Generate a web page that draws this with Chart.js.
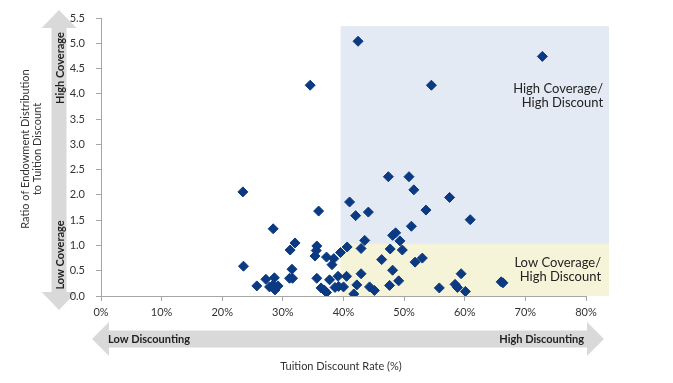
<!DOCTYPE html>
<html><head><meta charset="utf-8">
<script src="https://cdn.jsdelivr.net/npm/chart.js@4"></script>
<style>html,body{margin:0;padding:0;background:#fff}#wrap{width:673px;height:383px;position:relative}</style>
</head><body><div id="wrap"><canvas id="c" width="673" height="383"></canvas></div>
<script>
// Data
const discountRate = [42.4,72.8,34.5,54.5,23.4,47.4,50.8,51.6,57.5,41.0,35.9,42.0,44.1,53.6,60.9,51.2,28.4,48.6,48.1,49.3,43.5,32.0,31.2,23.5,35.6,35.5,35.3,37.2,38.1,38.4,39.5,40.6,42.9,47.7,49.7,46.3,51.8,53.0,48.1,42.9,40.5,39.1,37.7,35.6,36.3,36.8,37.2,38.6,39.2,40.0,41.7,42.2,44.3,45.1,47.6,49.1,55.8,58.4,58.8,59.4,60.1,66.0,66.3,31.5,31.1,31.6,27.2,25.7,27.8,28.6,28.7,29.2,28.4];
const coverageRatio = [5.04,4.74,4.17,4.17,2.06,2.36,2.36,2.10,1.95,1.86,1.68,1.59,1.66,1.70,1.51,1.38,1.33,1.25,1.20,1.09,1.10,1.05,0.91,0.59,0.99,0.90,0.79,0.77,0.62,0.74,0.86,0.97,0.94,0.93,0.91,0.72,0.67,0.75,0.51,0.44,0.39,0.39,0.32,0.35,0.16,0.12,0.07,0.17,0.19,0.18,0.04,0.22,0.18,0.11,0.21,0.30,0.16,0.23,0.17,0.44,0.09,0.28,0.26,0.53,0.35,0.35,0.33,0.20,0.18,0.36,0.12,0.20,0.22];
const xTickValues = [0,10,20,30,40,50,60,70,80];
const yTickValues = [0,0.5,1,1.5,2,2.5,3,3.5,4,4.5,5,5.5];
// Quadrant bounds (data units)
const quadXStart = 39.5, quadXEnd = 83.8;
const quadSplit = 1.03, quadTop = 5.34;
const highLabel = ["High Coverage/", "High Discount"];
const lowLabel = ["Low Coverage/", "High Discount"];
const yTitle = ["Ratio of Endowment Distribution", "to Tuition Discount"];
const xTitle = "Tuition Discount Rate (%)";
const yArrowLabels = ["High Coverage", "Low Coverage"];
const xArrowLabels = ["Low Discounting", "High Discounting"];

const points = discountRate.map((x, i) => ({x: x, y: coverageRatio[i]}));
const FONT = "Lato, 'Open Sans', sans-serif";

function arrowV(ctx, cx, top, bottom, bodyW, headW, headL) {
  ctx.beginPath();
  ctx.moveTo(cx, top);
  ctx.lineTo(cx + headW, top + headL);
  ctx.lineTo(cx + bodyW, top + headL);
  ctx.lineTo(cx + bodyW, bottom - headL);
  ctx.lineTo(cx + headW, bottom - headL);
  ctx.lineTo(cx, bottom);
  ctx.lineTo(cx - headW, bottom - headL);
  ctx.lineTo(cx - bodyW, bottom - headL);
  ctx.lineTo(cx - bodyW, top + headL);
  ctx.lineTo(cx - headW, top + headL);
  ctx.closePath();
  ctx.fill();
}
function arrowH(ctx, cy, left, right, bodyH, headH, headL) {
  ctx.beginPath();
  ctx.moveTo(left, cy);
  ctx.lineTo(left + headL, cy - headH);
  ctx.lineTo(left + headL, cy - bodyH);
  ctx.lineTo(right - headL, cy - bodyH);
  ctx.lineTo(right - headL, cy - headH);
  ctx.lineTo(right, cy);
  ctx.lineTo(right - headL, cy + headH);
  ctx.lineTo(right - headL, cy + bodyH);
  ctx.lineTo(left + headL, cy + bodyH);
  ctx.lineTo(left + headL, cy + headH);
  ctx.closePath();
  ctx.fill();
}

const decor = {
  id: 'decor',
  beforeDraw(chart) {
    const ctx = chart.ctx;
    const xs = chart.scales.x, ys = chart.scales.y;
    ctx.save();
    // quadrant shading
    const x0 = xs.getPixelForValue(quadXStart), x1 = xs.getPixelForValue(quadXEnd);
    const yTop = ys.getPixelForValue(quadTop), ySplit = ys.getPixelForValue(quadSplit), y0 = ys.getPixelForValue(0);
    ctx.fillStyle = '#e4eaf4';
    ctx.fillRect(x0, yTop, x1 - x0, ySplit - yTop);
    ctx.fillStyle = '#f6f4d8';
    ctx.fillRect(x0, ySplit, x1 - x0, y0 - ySplit);
    // quadrant labels
    ctx.fillStyle = '#222';
    ctx.font = "13px " + FONT;
    ctx.textAlign = 'right';
    ctx.textBaseline = 'middle';
    ctx.fillText(highLabel[0], x1 - 6, ys.getPixelForValue(4.1));
    ctx.fillText(highLabel[1], x1 - 6, ys.getPixelForValue(3.83));
    ctx.fillText(lowLabel[0], x1 - 8, ys.getPixelForValue(0.65));
    ctx.fillText(lowLabel[1], x1 - 8, ys.getPixelForValue(0.38));

    // arrows
    ctx.fillStyle = '#d9d9d9';
    arrowV(ctx, 59, 10, 310, 7.5, 17.5, 18);
    arrowH(ctx, 339, 92, 604, 8.5, 17, 17);

    ctx.fillStyle = '#222';
    ctx.font = "bold 11px " + FONT;
    ctx.textBaseline = 'middle';
    ctx.textAlign = 'center';
    ctx.save();
    ctx.translate(60, 68); ctx.rotate(-Math.PI / 2);
    ctx.fillText(yArrowLabels[0], 0, 0);
    ctx.restore();
    ctx.save();
    ctx.translate(60, 255); ctx.rotate(-Math.PI / 2);
    ctx.fillText(yArrowLabels[1], 0, 0);
    ctx.restore();
    ctx.textAlign = 'left';
    ctx.fillText(xArrowLabels[0], 108, 339);
    ctx.textAlign = 'right';
    ctx.fillText(xArrowLabels[1], 584, 339);

    // axis titles
    ctx.fillStyle = '#333';
    ctx.font = "11px " + FONT;
    ctx.textAlign = 'center';
    ctx.save();
    ctx.translate(25, 149); ctx.rotate(-Math.PI / 2);
    ctx.fillText(yTitle[0], 0, 0);
    ctx.restore();
    ctx.save();
    ctx.translate(37, 149); ctx.rotate(-Math.PI / 2);
    ctx.fillText(yTitle[1], 0, 0);
    ctx.restore();
    ctx.fillText(xTitle, 341, 366);
    ctx.restore();
  }
};

new Chart(document.getElementById('c'), {
  type: 'scatter',
  data: {
    datasets: [{
      data: points,
      pointStyle: 'rectRot',
      pointRadius: 5,
      borderWidth: 1,
      backgroundColor: '#0b3a82',
      borderColor: '#0b3a82'
    }]
  },
  options: {
    responsive: false,
    animation: false,
    layout: { padding: { top: 18, right: 87, left: 0, bottom: 0 } },
    plugins: { legend: { display: false }, tooltip: { enabled: false } },
    scales: {
      x: {
        type: 'linear', min: 0, max: 80,
        afterBuildTicks: s => { s.ticks = xTickValues.map(v => ({value: v})); },
        ticks: { callback: v => v + '%', color: '#333', font: { family: FONT, size: 11 }, padding: 5, maxRotation: 0 },
        grid: { drawOnChartArea: false, drawTicks: true, tickLength: 5, color: '#a6a6a6' },
        border: { color: '#a6a6a6' },
        afterFit: s => { s.height = 87; }
      },
      y: {
        type: 'linear', min: 0, max: 5.5,
        afterBuildTicks: s => { s.ticks = yTickValues.map(v => ({value: v})); },
        ticks: { callback: v => v.toFixed(1), color: '#333', font: { family: FONT, size: 11 }, padding: 11 },
        grid: { drawOnChartArea: false, drawTicks: true, tickLength: 5, color: '#a6a6a6' },
        border: { color: '#a6a6a6' },
        afterFit: s => { s.width = 101; }
      }
    }
  },
  plugins: [decor]
});
</script>
</body></html>
